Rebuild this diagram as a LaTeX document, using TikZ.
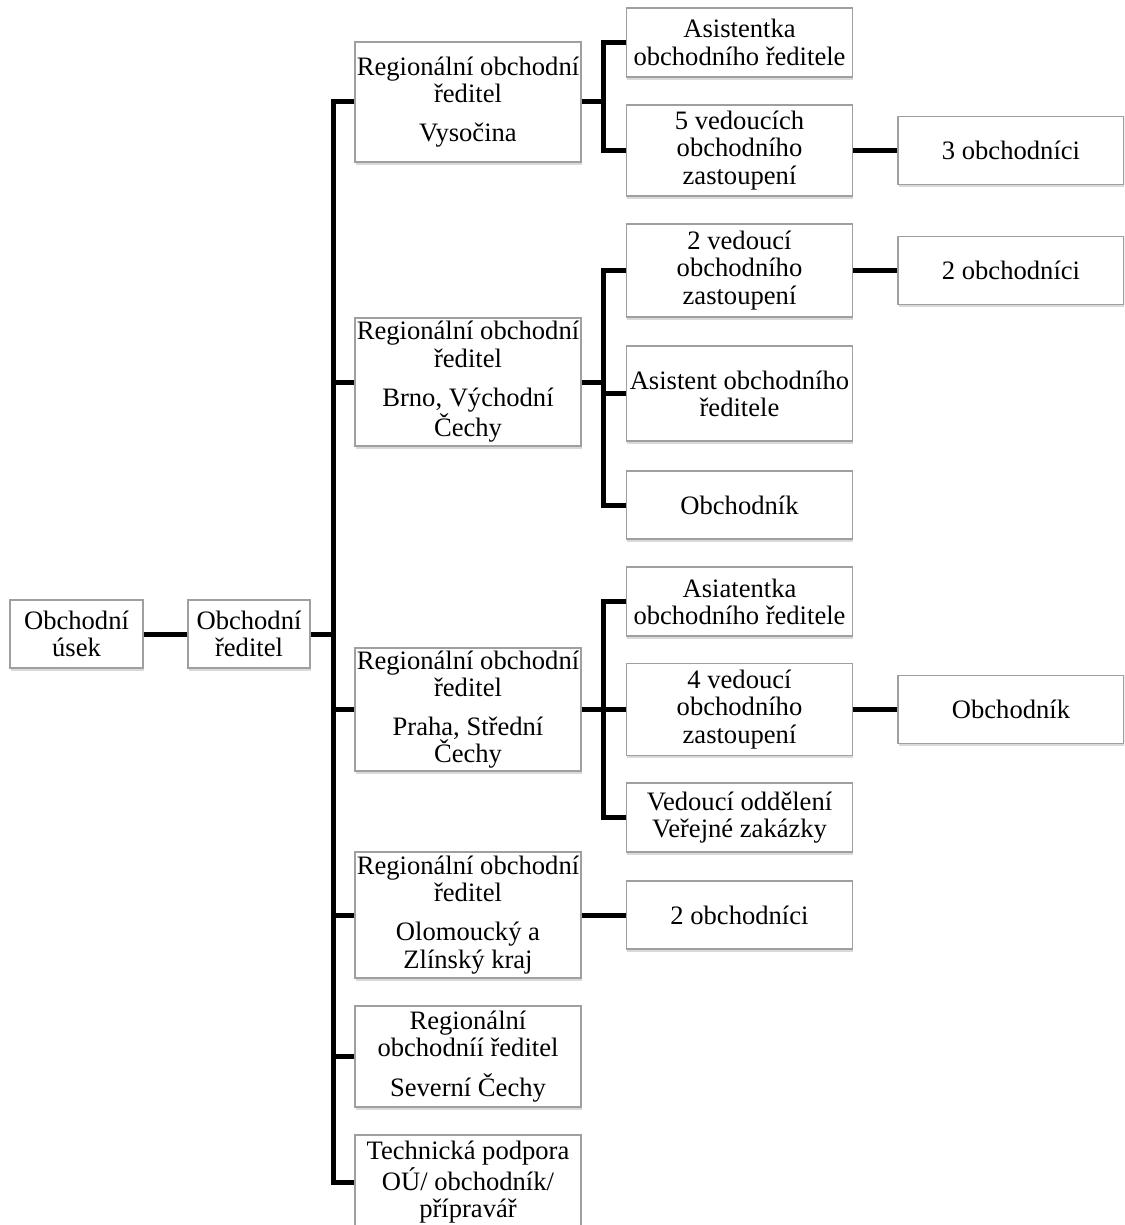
\documentclass[tikz,border=0pt]{standalone}
\usepackage{fontspec}
\setmainfont{Liberation Serif}
\usetikzlibrary{shadows}

\begin{document}
\begin{tikzpicture}[x=0.5pt,y=-0.5pt,node distance=135.75pt,line width=2.5pt,
      font=\fontsize{13.3}{13.6}\selectfont]
   \tikzstyle{box}=[draw=gray!75,line width=0.6pt,fill=white,align=center,
      inner sep=0pt,minimum width=113pt,
      drop shadow={shadow xshift=0.4pt,shadow yshift=-1.4pt,opacity=0.3}]
   \tikzstyle{elbow}=[to path={|- (\tikztotarget)}]
   \clip (0,0) rectangle (1124,1225);

   \node[box,minimum width=66.5pt,minimum height=34pt] (usek)    at (76.5,634) {Obchodní\\úsek};
   \node[box,minimum width=61pt,minimum height=34pt]   (reditel) at (249,634)  {Obchodní\\ředitel};

   \node[box,minimum height=60pt]   (R1) at (468,102)    {Regionální obchodní\\ředitel\\[6pt]Vysočina};
   \node[box,minimum height=64pt]   (R2) at (468,382)    {Regionální obchodní\\ředitel\\[6pt]Brno, Východní\\Čechy};
   \node[box,minimum height=61.5pt] (R3) at (468,709.5)  {Regionální obchodní\\ředitel\\[6pt]Praha, Střední\\Čechy};
   \node[box,minimum height=63pt]   (R4) at (468,915)    {Regionální obchodní\\ředitel\\[6pt]Olomoucký a\\Zlínský kraj};
   \node[box,minimum height=50.5pt] (R5) at (468,1056.5) {Regionální\\obchodníí ředitel\\[6pt]Severní Čechy};
   \node[box,minimum height=47pt]   (R6) at (468,1182)   {Technická podpora\\OÚ/ obchodník/\\přípravář};

   \node[box,minimum height=34.5pt] (A1) at (739.5,42.5)  {Asistentka\\obchodního ředitele};
   \node[box,minimum height=45.5pt] (V1) at (739.5,150.5) {5 vedoucích\\obchodního\\zastoupení};
   \node[box,minimum height=46.5pt] (V2) at (739.5,270.5) {2 vedoucí\\obchodního\\zastoupení};
   \node[box,minimum height=47.5pt] (A2) at (739.5,393.5) {Asistent obchodního\\ředitele};
   \node[box,minimum height=34pt]   (O2) at (739.5,505)   {Obchodník};
   \node[box,minimum height=34.5pt] (A3) at (739.5,601.5) {Asiatentka\\obchodního ředitele};
   \node[box,minimum height=46pt]   (V3) at (739.5,709.5) {4 vedoucí\\obchodního\\zastoupení};
   \node[box,minimum height=34.5pt] (D3) at (739.5,817.5) {Vedoucí oddělení\\Veřejné zakázky};
   \node[box,minimum height=34pt]   (O4) at (739.5,915)   {2 obchodníci};

   \node[box,minimum height=34pt] (P1) [right of=V1] {3 obchodníci};
   \node[box,minimum height=34pt] (P2) [right of=V2] {2 obchodníci};
   \node[box,minimum height=34pt] (P3) [right of=V3] {Obchodník};

   \coordinate (trunk) at (333,634);
   \coordinate (B1)    at (603,102);
   \coordinate (B2)    at (603,382);
   \coordinate (B3)    at (603,709.5);

   \path (usek)    edge (reditel)
         (reditel) edge (trunk);

   \path[elbow]
         (trunk) edge (R1)
                 edge (R2)
                 edge (R3)
                 edge (R4)
                 edge (R5)
                 edge (R6)
         (B1) edge (A1)
              edge (V1)
         (B2) edge (V2)
              edge (A2)
              edge (O2)
         (B3) edge (A3)
              edge (V3)
              edge (D3);

   \path (R1) edge (B1)
         (R2) edge (B2)
         (R3) edge (B3)
         (R4) edge (O4)
         (V1) edge (P1)
         (V2) edge (P2)
         (V3) edge (P3);
\end{tikzpicture}
\end{document}
